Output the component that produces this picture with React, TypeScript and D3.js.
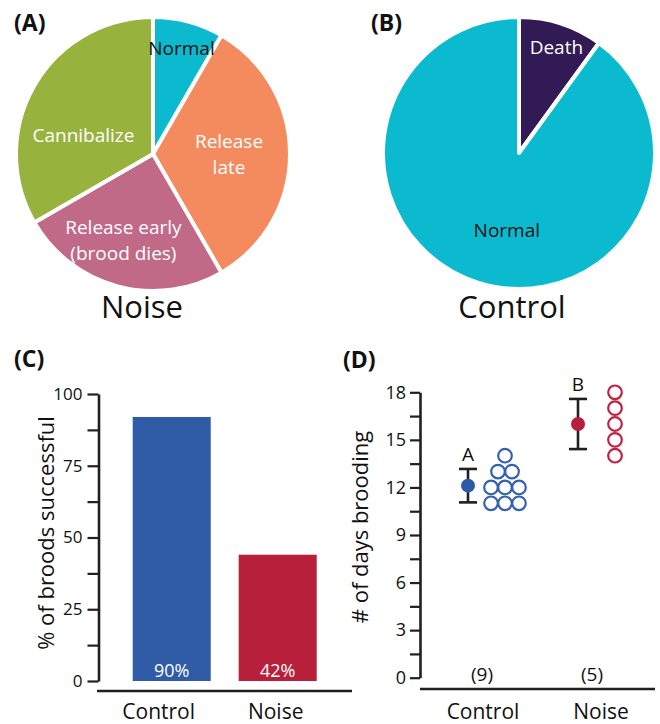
import React, { useEffect, useRef } from "react";
import * as d3 from "d3";

// pie A: noise broods (counts out of 12)
const noiseCategories = ["Normal", "Release late", "Release early (brood dies)", "Cannibalize"];
const noiseCounts = [1, 4, 3, 4];
const noiseLabelLines = [["Normal"], ["Release", "late"], ["Release early", "(brood dies)"], ["Cannibalize"]];

// pie B: control broods (counts out of 10)
const controlCategories = ["Death", "Normal"];
const controlCounts = [1, 9];
const controlLabelLines = [["Death"], ["Normal"]];

// panel C
const groups = ["Control", "Noise"];
const successPct = [92, 44];
const successLabels = ["90%", "42%"];
const pctTicks = [0, 25, 50, 75, 100];

// panel D
const controlDays = [14, 13, 13, 12, 12, 12, 11, 11, 11];
const noiseDays = [18, 17, 16, 15, 14];
const daysTicks = [0, 3, 6, 9, 12, 15, 18];
const sampleSizes = ["(9)", "(5)"];
const sigLetters = ["A", "B"];

const FONT = "'Open Sans', sans-serif";
const INK = "#231f20";

const App: React.FC = () => {
  const svgRef = useRef<SVGSVGElement | null>(null);

  useEffect(() => {
    const svg = d3.select(svgRef.current);
    svg.selectAll("*").remove();
    svg.attr("font-family", FONT);

    // ---------- pies ----------
    function drawPie(
      cx: number,
      cy: number,
      r: number,
      values: number[],
      colors: string[],
      lines: string[][],
      textColors: string[],
      place: [number, number][],
    ) {
      const g = svg.append("g").attr("transform", `translate(${cx},${cy})`);
      const arcs = d3.pie<number>().sort(null).value((d) => d)(values);
      const arc = d3.arc<d3.PieArcDatum<number>>().innerRadius(0).outerRadius(r);
      g.selectAll("path")
        .data(arcs)
        .join("path")
        .attr("d", arc)
        .attr("fill", (_, i) => colors[i])
        .attr("stroke", "#fff")
        .attr("stroke-width", 4)
        .attr("stroke-linejoin", "round");

      lines.forEach((ls, i) => {
        const [ang, dist] = place[i];
        const a = (ang * Math.PI) / 180;
        const x = Math.sin(a) * dist;
        const y = -Math.cos(a) * dist;
        const lh = 26;
        ls.forEach((t, j) => {
          g.append("text")
            .attr("x", x)
            .attr("y", y + (j - (ls.length - 1) / 2) * lh)
            .attr("dy", "0.36em")
            .attr("text-anchor", "middle")
            .attr("font-size", 19)
            .attr("fill", textColors[i])
            .text(t);
        });
      });
    }

    drawPie(
      153,
      154,
      137,
      noiseCounts,
      ["#0cbad0", "#f48b5f", "#c06a87", "#98b23e"],
      noiseLabelLines,
      ["#111", "#fff", "#fff", "#fff"],
      [
        [15, 110],
        [90, 76],
        [199, 91],
        [285, 72],
      ],
    );
    drawPie(
      519,
      153,
      136,
      controlCounts,
      ["#321b54", "#0cbad0"],
      controlLabelLines,
      ["#fff", "#111"],
      [
        [19.5, 112],
        [189, 78],
      ],
    );

    svg.append("text").attr("x", 142).attr("y", 318).attr("text-anchor", "middle")
      .attr("font-size", 31).attr("fill", "#111").text("Noise");
    svg.append("text").attr("x", 512).attr("y", 318).attr("text-anchor", "middle")
      .attr("font-size", 31).attr("fill", "#111").text("Control");

    // panel letters
    const panelLetters: [string, number, number][] = [
      ["(A)", 14, 31],
      ["(B)", 371, 31],
      ["(C)", 14, 367],
      ["(D)", 343, 368],
    ];
    panelLetters.forEach(([t, x, y]) =>
      svg.append("text").attr("x", x).attr("y", y).attr("font-size", 23)
        .attr("font-weight", 700).attr("fill", "#111").text(t),
    );

    // ---------- panel C ----------
    const yC = d3.scaleLinear().domain([0, 100]).range([681, 394]);
    const xC = d3.scaleBand().domain(groups).range([118.7, 330.7]).paddingInner(0.264).paddingOuter(0.132);
    const barColors = ["#2f5ba7", "#b81f3a"];

    svg.append("g")
      .selectAll("rect")
      .data(successPct)
      .join("rect")
      .attr("x", (_, i) => xC(groups[i]) as number)
      .attr("y", (d) => yC(d))
      .attr("width", xC.bandwidth())
      .attr("height", (d) => yC(0) - yC(d))
      .attr("fill", (_, i) => barColors[i]);

    successLabels.forEach((t, i) => {
      svg.append("text")
        .attr("x", (xC(groups[i]) as number) + xC.bandwidth() / 2)
        .attr("y", yC(0) - 4)
        .attr("text-anchor", "middle")
        .attr("font-size", 18)
        .attr("fill", "#fff")
        .text(t);
    });

    const gyC = svg.append("g")
      .attr("transform", "translate(98.5,0)")
      .call(
        d3.axisLeft(yC)
          .tickValues(d3.range(0, 100.1, 12.5))
          .tickSize(11)
          .tickSizeOuter(0)
          .tickPadding(5)
          .tickFormat((d) => (pctTicks.includes(+d) ? String(d) : "")),
      );
    gyC.select(".domain").attr("stroke", INK).attr("stroke-width", 2.6);
    gyC.selectAll(".tick line").attr("stroke", INK).attr("stroke-width", 2.2);
    gyC.selectAll(".tick text").attr("font-size", 17).attr("font-family", FONT).attr("fill", "#111");

    svg.append("line").attr("x1", 97).attr("x2", 352).attr("y1", 691).attr("y2", 691)
      .attr("stroke", INK).attr("stroke-width", 2.4);

    groups.forEach((gname, i) => {
      svg.append("text")
        .attr("x", (xC(gname) as number) + xC.bandwidth() / 2 - (i === 0 ? 13 : 2))
        .attr("y", 719)
        .attr("text-anchor", "middle")
        .attr("font-size", 21)
        .attr("fill", "#111")
        .text(gname);
    });

    svg.append("text")
      .attr("transform", "translate(54,533) rotate(-90)")
      .attr("text-anchor", "middle")
      .attr("font-size", 22)
      .attr("fill", "#111")
      .text("% of broods successful");

    // ---------- panel D ----------
    const yD = d3.scaleLinear().domain([0, 18]).range([677.7, 392.3]);
    const xD = d3.scalePoint().domain(groups).range([486, 596]);
    const dotColors = ["#3461b0", "#c4203f"];
    const meanColors = ["#2d5aa6", "#b81f3c"];
    const series = [controlDays, noiseDays];

    const gyD = svg.append("g")
      .attr("transform", "translate(420,0)")
      .call(
        d3.axisLeft(yD)
          .tickValues(d3.range(0, 18.1, 1.5))
          .tickSize(10)
          .tickSizeOuter(0)
          .tickPadding(4)
          .tickFormat((d) => (daysTicks.includes(+d) ? String(d) : "")),
      );
    gyD.select(".domain").attr("stroke", INK).attr("stroke-width", 2.6);
    gyD.selectAll(".tick line").attr("stroke", INK).attr("stroke-width", 2.2);
    gyD.selectAll(".tick text").attr("font-size", 18).attr("font-family", FONT).attr("fill", "#111");

    svg.append("line").attr("x1", 420).attr("x2", 655).attr("y1", 689).attr("y2", 689)
      .attr("stroke", INK).attr("stroke-width", 2.4);

    series.forEach((vals, i) => {
      const cx = xD(groups[i]) as number;
      const mean = d3.mean(vals) as number;
      const sd = d3.deviation(vals) as number;
      const mx = cx - 18;

      // error bar
      const eb = svg.append("g").attr("stroke", INK).attr("stroke-width", 2.6);
      eb.append("line").attr("x1", mx).attr("x2", mx).attr("y1", yD(mean + sd)).attr("y2", yD(mean - sd));
      [mean + sd, mean - sd].forEach((v) =>
        eb.append("line").attr("x1", mx - 9).attr("x2", mx + 9).attr("y1", yD(v)).attr("y2", yD(v)),
      );
      svg.append("circle").attr("cx", mx).attr("cy", yD(mean)).attr("r", 7).attr("fill", meanColors[i]);

      svg.append("text")
        .attr("x", mx)
        .attr("y", yD(mean + sd) - 8)
        .attr("text-anchor", "middle")
        .attr("font-size", 19)
        .attr("fill", "#111")
        .text(sigLetters[i]);

      // individual broods, stacked by value
      const byVal = d3.group(vals, (v) => v);
      const pts: { v: number; k: number; n: number }[] = [];
      byVal.forEach((arr, v) => arr.forEach((_, k) => pts.push({ v, k, n: arr.length })));
      const dx = cx + 19;
      svg.append("g")
        .selectAll("circle")
        .data(pts)
        .join("circle")
        .attr("cx", (p) => dx + (p.k - (p.n - 1) / 2) * 14)
        .attr("cy", (p) => yD(p.v))
        .attr("r", 6.8)
        .attr("fill", "none")
        .attr("stroke", dotColors[i])
        .attr("stroke-width", 2.2);

      svg.append("text")
        .attr("x", cx - 4)
        .attr("y", 681)
        .attr("text-anchor", "middle")
        .attr("font-size", 19)
        .attr("fill", "#111")
        .text(sampleSizes[i]);

      svg.append("text")
        .attr("x", cx + (i === 0 ? -3 : 5))
        .attr("y", 719)
        .attr("text-anchor", "middle")
        .attr("font-size", 21)
        .attr("fill", "#111")
        .text(groups[i]);
    });

    svg.append("text")
      .attr("transform", "translate(368,527) rotate(-90)")
      .attr("text-anchor", "middle")
      .attr("font-size", 22)
      .attr("fill", "#111")
      .text("# of days brooding");
  }, []);

  return (
    <svg
      ref={svgRef}
      width={660}
      height={724}
      style={{ position: "absolute", left: 0, top: 0, background: "#fff" }}
    ></svg>
  );
};

export default App;
